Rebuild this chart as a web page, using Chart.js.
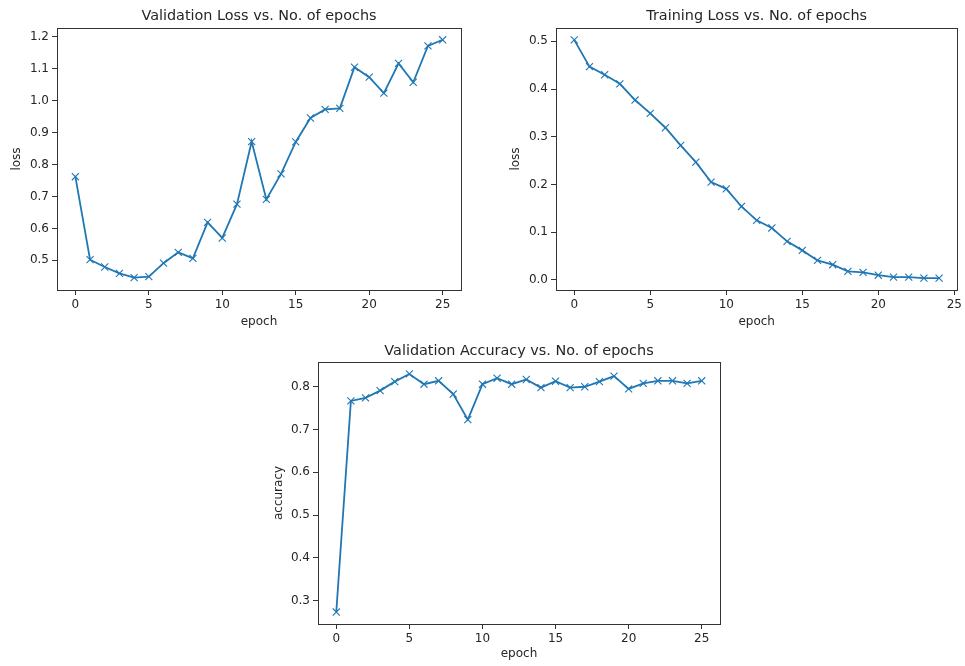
<!DOCTYPE html>
<html lang="en">
<head>
    <meta charset="UTF-8">
    <title>Training curves</title>
    <script src="https://cdn.jsdelivr.net/npm/chart.js"></script>
    <style>
        html, body { margin: 0; padding: 0; background: #fff; }
        body { width: 965px; height: 666px; position: relative; overflow: hidden; }
        .box { position: absolute; }
    </style>
</head>
<body>
    <div class="box" style="left:0px;top:0px;width:480px;height:333px"><canvas id="valLossChart"></canvas></div>
    <div class="box" style="left:490px;top:0px;width:475px;height:333px"><canvas id="trainLossChart"></canvas></div>
    <div class="box" style="left:250px;top:333px;width:490px;height:333px"><canvas id="valAccChart"></canvas></div>
    <script>
        // epochs
        const epochs26 = [0, 1, 2, 3, 4, 5, 6, 7, 8, 9, 10, 11, 12, 13, 14, 15, 16, 17, 18, 19, 20, 21, 22, 23, 24, 25];
        const epochs25 = [0, 1, 2, 3, 4, 5, 6, 7, 8, 9, 10, 11, 12, 13, 14, 15, 16, 17, 18, 19, 20, 21, 22, 23, 24];

        // values
        const valLoss = [0.762, 0.502, 0.479, 0.459, 0.446, 0.449, 0.491, 0.525, 0.506, 0.619, 0.570, 0.676, 0.872,
                         0.691, 0.771, 0.871, 0.946, 0.973, 0.976, 1.105, 1.074, 1.024, 1.117, 1.058, 1.172, 1.191];
        const trainLoss = [0.503, 0.447, 0.430, 0.411, 0.377, 0.349, 0.319, 0.282, 0.247, 0.205, 0.191, 0.154, 0.125,
                           0.109, 0.081, 0.062, 0.041, 0.032, 0.018, 0.016, 0.010, 0.006, 0.006, 0.004, 0.004];
        const valAcc = [0.273, 0.767, 0.774, 0.791, 0.812, 0.830, 0.806, 0.814, 0.783, 0.723, 0.806, 0.820, 0.806,
                        0.817, 0.798, 0.813, 0.798, 0.800, 0.812, 0.825, 0.795, 0.808, 0.814, 0.814, 0.808, 0.814];

        const BLUE = '#1f77b4';
        const INK = '#262626';
        const FONT = "'DejaVu Sans', sans-serif";

        // matplotlib-like closed axes box
        const frame = {
            id: 'frame',
            afterDraw(chart) {
                const a = chart.chartArea;
                const ctx = chart.ctx;
                ctx.save();
                ctx.strokeStyle = '#333';
                ctx.lineWidth = 1;
                ctx.strokeRect(Math.round(a.left) + 0.5, Math.round(a.top) + 0.5,
                               Math.round(a.right - a.left), Math.round(a.bottom - a.top));
                ctx.restore();
            }
        };

        function makeChart(id, xs, ys, opt) {
            const pts = xs.map((x, i) => ({ x: x, y: ys[i] }));
            return new Chart(document.getElementById(id), {
                type: 'line',
                data: {
                    datasets: [{
                        data: pts,
                        borderColor: BLUE,
                        backgroundColor: BLUE,
                        borderWidth: 1.8,
                        pointStyle: 'crossRot',
                        pointRadius: 5,
                        pointBorderWidth: 1.1,
                        pointHoverRadius: 5,
                        tension: 0
                    }]
                },
                options: {
                    responsive: true,
                    maintainAspectRatio: false,
                    animation: false,
                    layout: { padding: { left: 0, right: opt.padRight, top: 0, bottom: 0 } },
                    plugins: {
                        legend: { display: false },
                        tooltip: { enabled: false },
                        title: {
                            display: true,
                            text: opt.title,
                            fullSize: false,
                            color: INK,
                            font: { family: FONT, size: 14.4, weight: 'normal' },
                            padding: { top: opt.titleTop, bottom: opt.titleH - 17.3 - opt.titleTop }
                        }
                    },
                    scales: {
                        x: {
                            type: 'linear',
                            min: opt.xMin,
                            max: opt.xMax,
                            afterFit: s => { s.height = opt.xAxisH; },
                            border: { display: false },
                            grid: { display: true, drawOnChartArea: false, drawTicks: true, tickLength: 5, tickColor: '#333' },
                            ticks: {
                                stepSize: 5,
                                includeBounds: false,
                                color: INK,
                                padding: 3,
                                maxRotation: 0,
                                font: { family: FONT, size: 12 },
                                callback: v => String(Math.round(v))
                            },
                            title: {
                                display: true,
                                text: 'epoch',
                                color: INK,
                                font: { family: FONT, size: 12 },
                                padding: { top: 0, bottom: opt.xTitlePad }
                            }
                        },
                        y: {
                            min: opt.yMin,
                            max: opt.yMax,
                            afterFit: s => { s.width = opt.yAxisW; },
                            border: { display: false },
                            grid: { display: true, drawOnChartArea: false, drawTicks: true, tickLength: 5, tickColor: '#333' },
                            ticks: {
                                stepSize: 0.1,
                                includeBounds: false,
                                color: INK,
                                padding: 3,
                                font: { family: FONT, size: 12 },
                                callback: v => Number(v).toFixed(1)
                            },
                            title: {
                                display: true,
                                text: opt.yLabel,
                                color: INK,
                                font: { family: FONT, size: 12 },
                                padding: { top: opt.yTitlePad, bottom: 0 }
                            }
                        }
                    }
                },
                plugins: [frame]
            });
        }

        makeChart('valLossChart', epochs26, valLoss, {
            title: 'Validation Loss vs. No. of epochs', yLabel: 'loss',
            xMin: -1.25, xMax: 26.25, yMin: 0.407, yMax: 1.228,
            yAxisW: 57, xAxisH: 43, padRight: 19, titleH: 28, titleTop: 7.3,
            yTitlePad: 10, xTitlePad: 4
        });

        makeChart('trainLossChart', epochs25, trainLoss, {
            title: 'Training Loss vs. No. of epochs', yLabel: 'loss',
            xMin: -1.2, xMax: 25.2, yMin: -0.021, yMax: 0.528,
            yAxisW: 66, xAxisH: 43, padRight: 6, titleH: 28, titleTop: 7.3,
            yTitlePad: 19, xTitlePad: 4
        });

        makeChart('valAccChart', epochs26, valAcc, {
            title: 'Validation Accuracy vs. No. of epochs', yLabel: 'accuracy',
            xMin: -1.25, xMax: 26.25, yMin: 0.245, yMax: 0.858,
            yAxisW: 68, xAxisH: 42, padRight: 20, titleH: 29, titleTop: 9.3,
            yTitlePad: 22, xTitlePad: 5
        });
    </script>
</body>
</html>
